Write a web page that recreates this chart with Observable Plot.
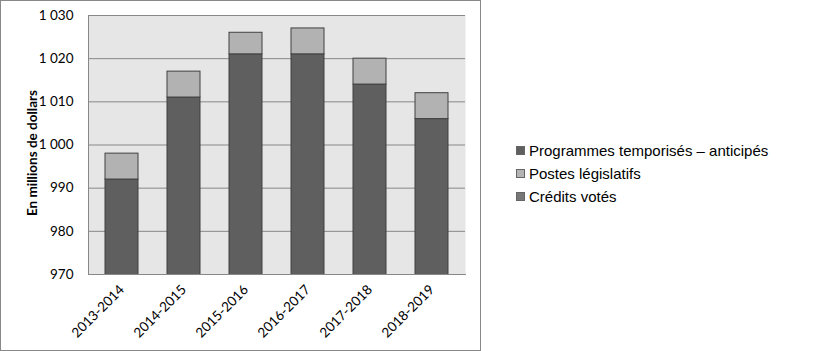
<!DOCTYPE html>
<html>
<head>
<meta charset="utf-8">
<script src="https://cdn.jsdelivr.net/npm/d3@7"></script>
<script src="https://cdn.jsdelivr.net/npm/@observablehq/plot@0.6"></script>
<style>
  html, body { margin: 0; padding: 0; background: #fff; }
  #wrap { position: relative; width: 840px; height: 351px; overflow: hidden; }
  #box { position: absolute; left: 0; top: 0; width: 479px; height: 349px; border: 1px solid #888; pointer-events: none; }
  #legend { position: absolute; left: 516px; top: 139px; font-family: "Liberation Sans", Arial, sans-serif; font-size: 15px; color: #000; }
  #legend div { height: 23px; line-height: 23px; display: flex; align-items: center; }
  #legend span.sw { display: inline-block; width: 7px; height: 7px; margin-right: 4px; border: 1px solid #666; }
  #ylabel { position: absolute; font-family: Lato, "Open Sans", sans-serif; font-weight: bold; font-size: 13.5px; left: 32px; top: 153px; transform: translate(-50%, -50%) rotate(-90deg); white-space: nowrap; }
</style>
</head>
<body>
<div id="wrap">
  <div id="chart"></div>
  <div id="box"></div>
  <div id="ylabel">En millions de dollars</div>
  <div id="legend"></div>
</div>
<script>
const years = ["2013-2014", "2014-2015", "2015-2016", "2016-2017", "2017-2018", "2018-2019"];
const creditsVotes = [992, 1011, 1021, 1021, 1014, 1006];
const postesLegislatifs = [6, 6, 5, 6, 6, 6];
const programmesTemporises = [0, 0, 0, 0, 0, 0];
const yTicks = [970, 980, 990, 1000, 1010, 1020, 1030];
const yTickLabels = ["970", "980", "990", "1 000", "1 010", "1 020", "1 030"];
const seriesNames = ["Crédits votés", "Postes législatifs", "Programmes temporisés – anticipés"];
const seriesColors = ["#5f5f5f", "#b2b2b2", "#5f5f5f"];
const legendNames = ["Programmes temporisés – anticipés", "Postes législatifs", "Crédits votés"];
const legendColors = ["#5f5f5f", "#b4b4b4", "#777777"];

const seriesValues = [creditsVotes, postesLegislatifs, programmesTemporises];
const data = [];
seriesNames.forEach((s, i) => {
  years.forEach((y, j) => {
    if (seriesValues[i][j] > 0) data.push({year: y, series: s, value: seriesValues[i][j]});
  });
});

const chart = Plot.plot({
  width: 840,
  height: 351,
  marginLeft: 88,
  marginTop: 15,
  marginRight: 375,
  marginBottom: 77,
  style: {fontFamily: "Lato, 'Open Sans', sans-serif", fontSize: "13.5px", color: "#000", background: "transparent"},
  x: {domain: years, paddingInner: 0.47, paddingOuter: 0.235, label: null, tickSize: 0, tickRotate: -45, tickPadding: 13},
  y: {domain: [970, 1030], ticks: yTicks, tickFormat: d => yTickLabels[yTicks.indexOf(d)], label: null, tickSize: 0, tickPadding: 15},
  color: {domain: seriesNames, range: seriesColors},
  marks: [
    Plot.frame({fill: "#e6e6e6", stroke: null}),
    Plot.gridY(yTicks, {stroke: "#888", strokeOpacity: 1}),
    Plot.barY(data, {x: "year", y: "value", fill: "series", stroke: "#404040", strokeWidth: 1, clip: true}),
    Plot.frame({anchor: "left", stroke: "#888"}),
    Plot.frame({anchor: "bottom", stroke: "#888"})
  ]
});
document.getElementById("chart").appendChild(chart);

const legend = document.getElementById("legend");
legendNames.forEach((n, i) => {
  const row = document.createElement("div");
  const sw = document.createElement("span");
  sw.className = "sw";
  sw.style.background = legendColors[i];
  row.appendChild(sw);
  row.appendChild(document.createTextNode(n));
  legend.appendChild(row);
});
</script>
</body>
</html>
